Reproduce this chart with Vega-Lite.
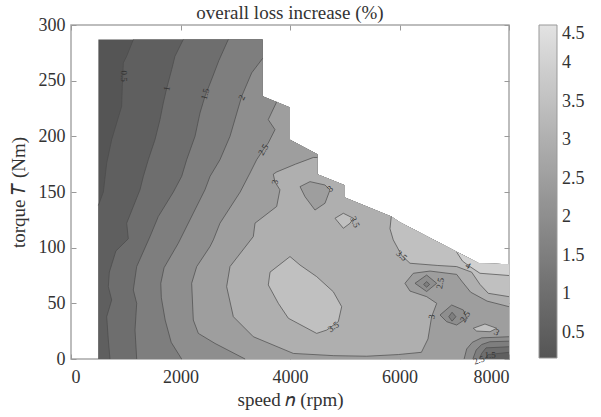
{
"$schema":"https://vega.github.io/schema/vega-lite/v6.json",
"width":438,"height":334,
"autosize":{"type":"none"},
"padding":{"left":71,"top":25,"right":92,"bottom":58},
"background":"white",
"title":{"text":"overall loss increase (%)","font":"Liberation Serif","fontSize":19,"fontWeight":"normal","color":"#333333","offset":-7,"anchor":"middle"},
"config":{"view":{"stroke":"#a8a8a8","strokeWidth":1.5}},
"resolve":{"axis":{"x":"independent","y":"independent"}},
"datasets":{
"poly":[
{"p":"p01","l":0.17,"i":0,"c":0,"s":500,"t":0},{"p":"p01","l":0.17,"i":1,"c":0,"s":500,"t":287},{"p":"p01","l":0.17,"i":2,"c":0,"s":3500,"t":287},{"p":"p01","l":0.17,"i":3,"c":0,"s":3500,"t":236},{"p":"p01","l":0.17,"i":4,"c":0,"s":4000,"t":226},{"p":"p01","l":0.17,"i":5,"c":0,"s":4000,"t":197},{"p":"p01","l":0.17,"i":6,"c":0,"s":4500,"t":184},{"p":"p01","l":0.17,"i":7,"c":0,"s":4500,"t":166},{"p":"p01","l":0.17,"i":8,"c":0,"s":5000,"t":156},{"p":"p01","l":0.17,"i":9,"c":0,"s":5000,"t":145},{"p":"p01","l":0.17,"i":10,"c":0,"s":5850,"t":128},{"p":"p01","l":0.17,"i":11,"c":0,"s":6000,"t":123},{"p":"p01","l":0.17,"i":12,"c":0,"s":7450,"t":86},{"p":"p01","l":0.17,"i":13,"c":0,"s":8000,"t":85},{"p":"p01","l":0.17,"i":14,"c":0,"s":8000,"t":0},
{"p":"p02","l":0.5,"i":0,"c":1,"s":500,"t":138},{"p":"p02","l":0.5,"i":1,"c":1,"s":591,"t":150},{"p":"p02","l":0.5,"i":2,"c":1,"s":652,"t":176},{"p":"p02","l":0.5,"i":3,"c":1,"s":743,"t":197},{"p":"p02","l":0.5,"i":4,"c":1,"s":834,"t":212},{"p":"p02","l":0.5,"i":5,"c":1,"s":925,"t":227},{"p":"p02","l":0.5,"i":6,"c":1,"s":937,"t":245},{"p":"p02","l":0.5,"i":7,"c":1,"s":956,"t":266},{"p":"p02","l":0.5,"i":8,"c":1,"s":1017,"t":272},{"p":"p02","l":0.5,"i":9,"c":1,"s":1139,"t":287},{"p":"p02","l":0.5,"i":10,"c":0,"s":3500,"t":287},{"p":"p02","l":0.5,"i":11,"c":0,"s":3500,"t":236},{"p":"p02","l":0.5,"i":12,"c":0,"s":4000,"t":226},{"p":"p02","l":0.5,"i":13,"c":0,"s":4000,"t":197},{"p":"p02","l":0.5,"i":14,"c":0,"s":4500,"t":184},{"p":"p02","l":0.5,"i":15,"c":0,"s":4500,"t":166},{"p":"p02","l":0.5,"i":16,"c":0,"s":5000,"t":156},{"p":"p02","l":0.5,"i":17,"c":0,"s":5000,"t":145},{"p":"p02","l":0.5,"i":18,"c":0,"s":5850,"t":128},{"p":"p02","l":0.5,"i":19,"c":0,"s":6000,"t":123},{"p":"p02","l":0.5,"i":20,"c":0,"s":7450,"t":86},{"p":"p02","l":0.5,"i":21,"c":0,"s":8000,"t":85},{"p":"p02","l":0.5,"i":22,"c":0,"s":8000,"t":0},{"p":"p02","l":0.5,"i":23,"c":0,"s":500,"t":0},
{"p":"p03","l":1.0,"i":0,"c":1,"s":712,"t":0},{"p":"p03","l":1.0,"i":1,"c":1,"s":682,"t":17},{"p":"p03","l":1.0,"i":2,"c":1,"s":652,"t":38},{"p":"p03","l":1.0,"i":3,"c":1,"s":743,"t":53},{"p":"p03","l":1.0,"i":4,"c":1,"s":682,"t":65},{"p":"p03","l":1.0,"i":5,"c":1,"s":700,"t":78},{"p":"p03","l":1.0,"i":6,"c":1,"s":820,"t":97},{"p":"p03","l":1.0,"i":7,"c":1,"s":1047,"t":108},{"p":"p03","l":1.0,"i":8,"c":1,"s":1017,"t":122},{"p":"p03","l":1.0,"i":9,"c":1,"s":1260,"t":152},{"p":"p03","l":1.0,"i":10,"c":1,"s":1321,"t":164},{"p":"p03","l":1.0,"i":11,"c":1,"s":1412,"t":179},{"p":"p03","l":1.0,"i":12,"c":1,"s":1534,"t":197},{"p":"p03","l":1.0,"i":13,"c":1,"s":1625,"t":215},{"p":"p03","l":1.0,"i":14,"c":1,"s":1686,"t":230},{"p":"p03","l":1.0,"i":15,"c":1,"s":1747,"t":243},{"p":"p03","l":1.0,"i":16,"c":1,"s":1839,"t":260},{"p":"p03","l":1.0,"i":17,"c":1,"s":1899,"t":272},{"p":"p03","l":1.0,"i":18,"c":1,"s":2051,"t":287},{"p":"p03","l":1.0,"i":19,"c":0,"s":3500,"t":287},{"p":"p03","l":1.0,"i":20,"c":0,"s":3500,"t":236},{"p":"p03","l":1.0,"i":21,"c":0,"s":4000,"t":226},{"p":"p03","l":1.0,"i":22,"c":0,"s":4000,"t":197},{"p":"p03","l":1.0,"i":23,"c":0,"s":4500,"t":184},{"p":"p03","l":1.0,"i":24,"c":0,"s":4500,"t":166},{"p":"p03","l":1.0,"i":25,"c":0,"s":5000,"t":156},{"p":"p03","l":1.0,"i":26,"c":0,"s":5000,"t":145},{"p":"p03","l":1.0,"i":27,"c":0,"s":5850,"t":128},{"p":"p03","l":1.0,"i":28,"c":0,"s":6000,"t":123},{"p":"p03","l":1.0,"i":29,"c":0,"s":7450,"t":86},{"p":"p03","l":1.0,"i":30,"c":0,"s":8000,"t":85},{"p":"p03","l":1.0,"i":31,"c":0,"s":8000,"t":0},
{"p":"p04","l":1.5,"i":0,"c":1,"s":1200,"t":0},{"p":"p04","l":1.5,"i":1,"c":1,"s":1169,"t":26},{"p":"p04","l":1.5,"i":2,"c":1,"s":1200,"t":50},{"p":"p04","l":1.5,"i":3,"c":1,"s":1138,"t":62},{"p":"p04","l":1.5,"i":4,"c":1,"s":1200,"t":83},{"p":"p04","l":1.5,"i":5,"c":1,"s":1443,"t":110},{"p":"p04","l":1.5,"i":6,"c":1,"s":1595,"t":128},{"p":"p04","l":1.5,"i":7,"c":1,"s":1870,"t":150},{"p":"p04","l":1.5,"i":8,"c":1,"s":2021,"t":164},{"p":"p04","l":1.5,"i":9,"c":1,"s":2113,"t":179},{"p":"p04","l":1.5,"i":10,"c":1,"s":2265,"t":200},{"p":"p04","l":1.5,"i":11,"c":1,"s":2356,"t":221},{"p":"p04","l":1.5,"i":12,"c":1,"s":2447,"t":236},{"p":"p04","l":1.5,"i":13,"c":1,"s":2560,"t":250},{"p":"p04","l":1.5,"i":14,"c":1,"s":2700,"t":268},{"p":"p04","l":1.5,"i":15,"c":1,"s":2873,"t":287},{"p":"p04","l":1.5,"i":16,"c":0,"s":3500,"t":287},{"p":"p04","l":1.5,"i":17,"c":0,"s":3500,"t":236},{"p":"p04","l":1.5,"i":18,"c":0,"s":4000,"t":226},{"p":"p04","l":1.5,"i":19,"c":0,"s":4000,"t":197},{"p":"p04","l":1.5,"i":20,"c":0,"s":4500,"t":184},{"p":"p04","l":1.5,"i":21,"c":0,"s":4500,"t":166},{"p":"p04","l":1.5,"i":22,"c":0,"s":5000,"t":156},{"p":"p04","l":1.5,"i":23,"c":0,"s":5000,"t":145},{"p":"p04","l":1.5,"i":24,"c":0,"s":5850,"t":128},{"p":"p04","l":1.5,"i":25,"c":0,"s":6000,"t":123},{"p":"p04","l":1.5,"i":26,"c":0,"s":7450,"t":86},{"p":"p04","l":1.5,"i":27,"c":0,"s":8000,"t":85},{"p":"p04","l":1.5,"i":28,"c":0,"s":8000,"t":0},
{"p":"p05","l":2.0,"i":0,"c":1,"s":2021,"t":0},{"p":"p05","l":2.0,"i":1,"c":1,"s":1830,"t":15},{"p":"p05","l":2.0,"i":2,"c":1,"s":1720,"t":35},{"p":"p05","l":2.0,"i":3,"c":1,"s":1650,"t":55},{"p":"p05","l":2.0,"i":4,"c":1,"s":1640,"t":68},{"p":"p05","l":2.0,"i":5,"c":1,"s":1700,"t":82},{"p":"p05","l":2.0,"i":6,"c":1,"s":1960,"t":104},{"p":"p05","l":2.0,"i":7,"c":1,"s":2234,"t":131},{"p":"p05","l":2.0,"i":8,"c":1,"s":2447,"t":152},{"p":"p05","l":2.0,"i":9,"c":1,"s":2539,"t":164},{"p":"p05","l":2.0,"i":10,"c":1,"s":2721,"t":179},{"p":"p05","l":2.0,"i":11,"c":1,"s":2904,"t":200},{"p":"p05","l":2.0,"i":12,"c":1,"s":3118,"t":236},{"p":"p05","l":2.0,"i":13,"c":1,"s":3300,"t":257},{"p":"p05","l":2.0,"i":14,"c":1,"s":3500,"t":270},{"p":"p05","l":2.0,"i":15,"c":0,"s":3500,"t":236},{"p":"p05","l":2.0,"i":16,"c":0,"s":4000,"t":226},{"p":"p05","l":2.0,"i":17,"c":0,"s":4000,"t":197},{"p":"p05","l":2.0,"i":18,"c":0,"s":4500,"t":184},{"p":"p05","l":2.0,"i":19,"c":0,"s":4500,"t":166},{"p":"p05","l":2.0,"i":20,"c":0,"s":5000,"t":156},{"p":"p05","l":2.0,"i":21,"c":0,"s":5000,"t":145},{"p":"p05","l":2.0,"i":22,"c":0,"s":5850,"t":128},{"p":"p05","l":2.0,"i":23,"c":0,"s":6000,"t":123},{"p":"p05","l":2.0,"i":24,"c":0,"s":7450,"t":86},{"p":"p05","l":2.0,"i":25,"c":0,"s":8000,"t":85},{"p":"p05","l":2.0,"i":26,"c":0,"s":8000,"t":0},
{"p":"p06","l":2.5,"i":0,"c":1,"s":3180,"t":0},{"p":"p06","l":2.5,"i":1,"c":1,"s":2630,"t":14},{"p":"p06","l":2.5,"i":2,"c":1,"s":2326,"t":23},{"p":"p06","l":2.5,"i":3,"c":1,"s":2234,"t":35},{"p":"p06","l":2.5,"i":4,"c":1,"s":2204,"t":68},{"p":"p06","l":2.5,"i":5,"c":1,"s":2296,"t":83},{"p":"p06","l":2.5,"i":6,"c":1,"s":2539,"t":101},{"p":"p06","l":2.5,"i":7,"c":1,"s":2600,"t":107},{"p":"p06","l":2.5,"i":8,"c":1,"s":2721,"t":122},{"p":"p06","l":2.5,"i":9,"c":1,"s":3090,"t":150},{"p":"p06","l":2.5,"i":10,"c":1,"s":3269,"t":167},{"p":"p06","l":2.5,"i":11,"c":1,"s":3391,"t":179},{"p":"p06","l":2.5,"i":12,"c":1,"s":3512,"t":188},{"p":"p06","l":2.5,"i":13,"c":1,"s":3603,"t":194},{"p":"p06","l":2.5,"i":14,"c":1,"s":3726,"t":206},{"p":"p06","l":2.5,"i":15,"c":1,"s":3603,"t":215},{"p":"p06","l":2.5,"i":16,"c":1,"s":3757,"t":231},{"p":"p06","l":2.5,"i":17,"c":0,"s":4000,"t":226},{"p":"p06","l":2.5,"i":18,"c":0,"s":4000,"t":197},{"p":"p06","l":2.5,"i":19,"c":0,"s":4500,"t":184},{"p":"p06","l":2.5,"i":20,"c":0,"s":4500,"t":166},{"p":"p06","l":2.5,"i":21,"c":0,"s":5000,"t":156},{"p":"p06","l":2.5,"i":22,"c":0,"s":5000,"t":145},{"p":"p06","l":2.5,"i":23,"c":0,"s":5850,"t":128},{"p":"p06","l":2.5,"i":24,"c":0,"s":6000,"t":123},{"p":"p06","l":2.5,"i":25,"c":0,"s":7450,"t":86},{"p":"p06","l":2.5,"i":26,"c":0,"s":8000,"t":85},{"p":"p06","l":2.5,"i":27,"c":0,"s":8000,"t":0},
{"p":"p07","l":3.0,"i":0,"c":1,"s":4500,"t":181},{"p":"p07","l":3.0,"i":1,"c":1,"s":4426,"t":181},{"p":"p07","l":3.0,"i":2,"c":1,"s":4100,"t":175},{"p":"p07","l":3.0,"i":3,"c":1,"s":3757,"t":168},{"p":"p07","l":3.0,"i":4,"c":1,"s":3695,"t":166},{"p":"p07","l":3.0,"i":5,"c":1,"s":3726,"t":159},{"p":"p07","l":3.0,"i":6,"c":1,"s":3816,"t":152},{"p":"p07","l":3.0,"i":7,"c":1,"s":3757,"t":137},{"p":"p07","l":3.0,"i":8,"c":1,"s":3361,"t":122},{"p":"p07","l":3.0,"i":9,"c":1,"s":3330,"t":110},{"p":"p07","l":3.0,"i":10,"c":1,"s":2904,"t":83},{"p":"p07","l":3.0,"i":11,"c":1,"s":2843,"t":65},{"p":"p07","l":3.0,"i":12,"c":1,"s":2965,"t":38},{"p":"p07","l":3.0,"i":13,"c":1,"s":3330,"t":20},{"p":"p07","l":3.0,"i":14,"c":1,"s":4061,"t":5},{"p":"p07","l":3.0,"i":15,"c":1,"s":4800,"t":3},{"p":"p07","l":3.0,"i":16,"c":1,"s":5400,"t":2.5},{"p":"p07","l":3.0,"i":17,"c":1,"s":5978,"t":4},{"p":"p07","l":3.0,"i":18,"c":1,"s":6400,"t":6},{"p":"p07","l":3.0,"i":19,"c":1,"s":6520,"t":18},{"p":"p07","l":3.0,"i":20,"c":1,"s":6587,"t":38},{"p":"p07","l":3.0,"i":21,"c":1,"s":6680,"t":50},{"p":"p07","l":3.0,"i":22,"c":1,"s":6496,"t":56},{"p":"p07","l":3.0,"i":23,"c":1,"s":6192,"t":61},{"p":"p07","l":3.0,"i":24,"c":1,"s":6100,"t":68},{"p":"p07","l":3.0,"i":25,"c":1,"s":6252,"t":77},{"p":"p07","l":3.0,"i":26,"c":1,"s":6557,"t":79},{"p":"p07","l":3.0,"i":27,"c":1,"s":7044,"t":76},{"p":"p07","l":3.0,"i":28,"c":1,"s":7136,"t":70},{"p":"p07","l":3.0,"i":29,"c":1,"s":7300,"t":60},{"p":"p07","l":3.0,"i":30,"c":1,"s":7600,"t":52},{"p":"p07","l":3.0,"i":31,"c":1,"s":8000,"t":47},{"p":"p07","l":3.0,"i":32,"c":0,"s":8000,"t":85},{"p":"p07","l":3.0,"i":33,"c":0,"s":7450,"t":86},{"p":"p07","l":3.0,"i":34,"c":0,"s":6000,"t":123},{"p":"p07","l":3.0,"i":35,"c":0,"s":5850,"t":128},{"p":"p07","l":3.0,"i":36,"c":0,"s":5000,"t":145},{"p":"p07","l":3.0,"i":37,"c":0,"s":5000,"t":156},{"p":"p07","l":3.0,"i":38,"c":0,"s":4500,"t":166},
{"p":"p08","l":3.5,"i":0,"c":1,"s":5850,"t":128},{"p":"p08","l":3.5,"i":1,"c":1,"s":5826,"t":117},{"p":"p08","l":3.5,"i":2,"c":1,"s":5886,"t":107},{"p":"p08","l":3.5,"i":3,"c":1,"s":6040,"t":93},{"p":"p08","l":3.5,"i":4,"c":1,"s":6192,"t":86},{"p":"p08","l":3.5,"i":5,"c":1,"s":6700,"t":84},{"p":"p08","l":3.5,"i":6,"c":1,"s":7044,"t":83},{"p":"p08","l":3.5,"i":7,"c":1,"s":7318,"t":78},{"p":"p08","l":3.5,"i":8,"c":1,"s":7470,"t":67},{"p":"p08","l":3.5,"i":9,"c":1,"s":7622,"t":59},{"p":"p08","l":3.5,"i":10,"c":1,"s":8000,"t":56},{"p":"p08","l":3.5,"i":11,"c":0,"s":8000,"t":85},{"p":"p08","l":3.5,"i":12,"c":0,"s":7450,"t":86},{"p":"p08","l":3.5,"i":13,"c":0,"s":6000,"t":123},
{"p":"p09","l":4.0,"i":0,"c":1,"s":7044,"t":96},{"p":"p09","l":4.0,"i":1,"c":1,"s":7150,"t":88},{"p":"p09","l":4.0,"i":2,"c":1,"s":7257,"t":84},{"p":"p09","l":4.0,"i":3,"c":1,"s":7470,"t":77},{"p":"p09","l":4.0,"i":4,"c":1,"s":8000,"t":75},{"p":"p09","l":4.0,"i":5,"c":0,"s":8000,"t":85},{"p":"p09","l":4.0,"i":6,"c":0,"s":7450,"t":86},
{"p":"p10","l":3.5,"i":0,"c":1,"s":4000,"t":92},{"p":"p10","l":3.5,"i":1,"c":1,"s":3635,"t":78},{"p":"p10","l":3.5,"i":2,"c":1,"s":3604,"t":66.5},{"p":"p10","l":3.5,"i":3,"c":1,"s":3787,"t":50},{"p":"p10","l":3.5,"i":4,"c":1,"s":3970,"t":36.6},{"p":"p10","l":3.5,"i":5,"c":1,"s":4487,"t":23},{"p":"p10","l":3.5,"i":6,"c":1,"s":4670,"t":26},{"p":"p10","l":3.5,"i":7,"c":1,"s":4882,"t":33.5},{"p":"p10","l":3.5,"i":8,"c":1,"s":4944,"t":47},{"p":"p10","l":3.5,"i":9,"c":1,"s":4791,"t":60.4},{"p":"p10","l":3.5,"i":10,"c":1,"s":4487,"t":74},{"p":"p10","l":3.5,"i":11,"c":1,"s":4183,"t":84.4},{"p":"p10","l":3.5,"i":12,"c":1,"s":4000,"t":92},
{"p":"p11","l":3.5,"i":0,"c":1,"s":4822,"t":126.4},{"p":"p11","l":3.5,"i":1,"c":1,"s":4974,"t":130.9},{"p":"p11","l":3.5,"i":2,"c":1,"s":5157,"t":126.4},{"p":"p11","l":3.5,"i":3,"c":1,"s":5096,"t":121.9},{"p":"p11","l":3.5,"i":4,"c":1,"s":4974,"t":117.4},{"p":"p11","l":3.5,"i":5,"c":1,"s":4822,"t":126.4},
{"p":"p12","l":2.5,"i":0,"c":1,"s":4183,"t":154.8},{"p":"p12","l":2.5,"i":1,"c":1,"s":4365,"t":159.3},{"p":"p12","l":2.5,"i":2,"c":1,"s":4639,"t":156.3},{"p":"p12","l":2.5,"i":3,"c":1,"s":4730,"t":151.8},{"p":"p12","l":2.5,"i":4,"c":1,"s":4639,"t":139.9},{"p":"p12","l":2.5,"i":5,"c":1,"s":4456,"t":133.8},{"p":"p12","l":2.5,"i":6,"c":1,"s":4274,"t":145.8},{"p":"p12","l":2.5,"i":7,"c":1,"s":4183,"t":154.8},
{"p":"p13","l":2.0,"i":0,"c":1,"s":6283,"t":68},{"p":"p13","l":2.0,"i":1,"c":1,"s":6496,"t":75.4},{"p":"p13","l":2.0,"i":2,"c":1,"s":6679,"t":68},{"p":"p13","l":2.0,"i":3,"c":1,"s":6496,"t":60.6},{"p":"p13","l":2.0,"i":4,"c":1,"s":6283,"t":68},
{"p":"p14","l":1.5,"i":0,"c":1,"s":6440,"t":67},{"p":"p14","l":1.5,"i":1,"c":1,"s":6496,"t":69.5},{"p":"p14","l":1.5,"i":2,"c":1,"s":6550,"t":67},{"p":"p14","l":1.5,"i":3,"c":1,"s":6496,"t":64.5},{"p":"p14","l":1.5,"i":4,"c":1,"s":6440,"t":67},
{"p":"p15","l":2.0,"i":0,"c":1,"s":6740,"t":39.5},{"p":"p15","l":2.0,"i":1,"c":1,"s":6953,"t":48.5},{"p":"p15","l":2.0,"i":2,"c":1,"s":7166,"t":44},{"p":"p15","l":2.0,"i":3,"c":1,"s":7227,"t":36.6},{"p":"p15","l":2.0,"i":4,"c":1,"s":7044,"t":30.5},{"p":"p15","l":2.0,"i":5,"c":1,"s":6862,"t":33.5},{"p":"p15","l":2.0,"i":6,"c":1,"s":6740,"t":39.5},
{"p":"p16","l":1.5,"i":0,"c":1,"s":6900,"t":38},{"p":"p16","l":1.5,"i":1,"c":1,"s":6960,"t":42},{"p":"p16","l":1.5,"i":2,"c":1,"s":7030,"t":38},{"p":"p16","l":1.5,"i":3,"c":1,"s":6960,"t":34},{"p":"p16","l":1.5,"i":4,"c":1,"s":6900,"t":38},
{"p":"p17","l":3.5,"i":0,"c":1,"s":7348,"t":27.6},{"p":"p17","l":3.5,"i":1,"c":1,"s":7561,"t":31.4},{"p":"p17","l":3.5,"i":2,"c":1,"s":7775,"t":27.6},{"p":"p17","l":3.5,"i":3,"c":1,"s":7653,"t":24.5},{"p":"p17","l":3.5,"i":4,"c":1,"s":7409,"t":25.1},{"p":"p17","l":3.5,"i":5,"c":1,"s":7348,"t":27.6},
{"p":"p18","l":2.0,"i":0,"c":1,"s":7180,"t":0},{"p":"p18","l":2.0,"i":1,"c":1,"s":7227,"t":9},{"p":"p18","l":2.0,"i":2,"c":1,"s":7330,"t":15},{"p":"p18","l":2.0,"i":3,"c":1,"s":7500,"t":19},{"p":"p18","l":2.0,"i":4,"c":1,"s":8000,"t":20},{"p":"p18","l":2.0,"i":5,"c":0,"s":8000,"t":0},
{"p":"p19","l":1.5,"i":0,"c":1,"s":7340,"t":0},{"p":"p19","l":1.5,"i":1,"c":1,"s":7400,"t":8},{"p":"p19","l":1.5,"i":2,"c":1,"s":7500,"t":13},{"p":"p19","l":1.5,"i":3,"c":1,"s":7650,"t":15.5},{"p":"p19","l":1.5,"i":4,"c":1,"s":8000,"t":16},{"p":"p19","l":1.5,"i":5,"c":0,"s":8000,"t":0},
{"p":"p20","l":1.0,"i":0,"c":1,"s":7460,"t":0},{"p":"p20","l":1.0,"i":1,"c":1,"s":7500,"t":5},{"p":"p20","l":1.0,"i":2,"c":1,"s":7580,"t":10},{"p":"p20","l":1.0,"i":3,"c":1,"s":8000,"t":11},{"p":"p20","l":1.0,"i":4,"c":0,"s":8000,"t":0},
{"p":"p21","l":0.5,"i":0,"c":1,"s":7560,"t":0},{"p":"p21","l":0.5,"i":1,"c":1,"s":7620,"t":4},{"p":"p21","l":0.5,"i":2,"c":1,"s":8000,"t":6},{"p":"p21","l":0.5,"i":3,"c":0,"s":8000,"t":0}
],
"labs":[
{"s":973,"t":254,"txt":"0.5","a":90},
{"s":1747,"t":243,"txt":"1","a":-80},
{"s":2447,"t":238,"txt":"1.5","a":-75},
{"s":3118,"t":235,"txt":"2","a":-65},
{"s":3512,"t":188,"txt":"2.5","a":-60},
{"s":3726,"t":159,"txt":"3","a":-80},
{"s":4730,"t":153,"txt":"3","a":-40},
{"s":5187,"t":123,"txt":"3.5","a":65},
{"s":4791,"t":29,"txt":"3.5","a":-35},
{"s":6040,"t":93,"txt":"3.5","a":40},
{"s":7257,"t":84,"txt":"4","a":30},
{"s":6740,"t":68,"txt":"2.5","a":-80},
{"s":6587,"t":38,"txt":"3","a":-80},
{"s":7196,"t":38,"txt":"2.5","a":-60},
{"s":7775,"t":24,"txt":"3","a":30},
{"s":7653,"t":4,"txt":"1.5","a":0},
{"s":7450,"t":-1,"txt":"2.5","a":-20}
]
},
"layer":[
{"data":{"name":"poly"},
 "mark":{"type":"line","strokeWidth":0,"interpolate":"linear"},
 "encoding":{
  "x":{"field":"s","type":"quantitative","scale":{"domain":[0,8000],"nice":false,"zero":false},
   "axis":{"values":[0,2000,4000,6000,8000],"format":"d","title":"speed 𝑛 (rpm)","domain":false,"grid":false,"tickSize":-5,"tickColor":"#999999","labelPadding":14,"labelFont":"Liberation Serif","labelFontSize":18,"labelColor":"#333333","titleFont":"Liberation Serif","titleFontSize":19,"titleFontWeight":"normal","titleColor":"#333333","titlePadding":4}},
  "y":{"field":"t","type":"quantitative","scale":{"domain":[0,300],"nice":false,"zero":false},
   "axis":{"values":[0,50,100,150,200,250,300],"format":"d","title":"torque 𝑇 (Nm)","domain":false,"grid":false,"tickSize":-5,"tickColor":"#999999","labelPadding":11,"labelFont":"Liberation Serif","labelFontSize":18,"labelColor":"#333333","titleFont":"Liberation Serif","titleFontSize":19,"titleFontWeight":"normal","titleColor":"#333333","titlePadding":10}},
  "order":{"field":"i","type":"quantitative"},
  "detail":{"field":"p","type":"nominal"},
  "fill":{"field":"l","type":"quantitative","scale":{"domain":[0.17,4.5],"range":["#555555","#e3e3e3"]},
   "legend":{"orient":"right","offset":28,"direction":"vertical","gradientLength":333,"gradientThickness":18,"values":[0.5,1,1.5,2,2.5,3,3.5,4,4.5],"format":".1~f","title":null,"labelFont":"Liberation Serif","labelFontSize":18,"labelColor":"#333333","labelOffset":5,"labelOverlap":false,"gradientStrokeColor":"#999999","gradientStrokeWidth":1}}
 }},
{"data":{"name":"poly"},
 "transform":[{"filter":"datum.c == 1"}],
 "mark":{"type":"line","stroke":"#4a4a4a","strokeWidth":0.7,"interpolate":"linear"},
 "encoding":{
  "x":{"field":"s","type":"quantitative","axis":null},
  "y":{"field":"t","type":"quantitative","axis":null},
  "order":{"field":"i","type":"quantitative"},
  "detail":{"field":"p","type":"nominal"}
 }},
{"data":{"name":"labs"},
 "mark":{"type":"text","font":"Liberation Serif","fontSize":9,"fill":"#333333"},
 "encoding":{
  "x":{"field":"s","type":"quantitative","axis":{"orient":"top","values":[0,2000,4000,6000,8000],"labels":false,"title":null,"domain":false,"grid":false,"tickSize":-5,"tickColor":"#999999"}},
  "y":{"field":"t","type":"quantitative","axis":{"orient":"right","values":[0,50,100,150,200,250,300],"labels":false,"title":null,"domain":false,"grid":false,"tickSize":-5,"tickColor":"#999999"}},
  "text":{"field":"txt","type":"nominal"},
  "angle":{"field":"a","type":"quantitative","scale":null}
 }}
]
}
